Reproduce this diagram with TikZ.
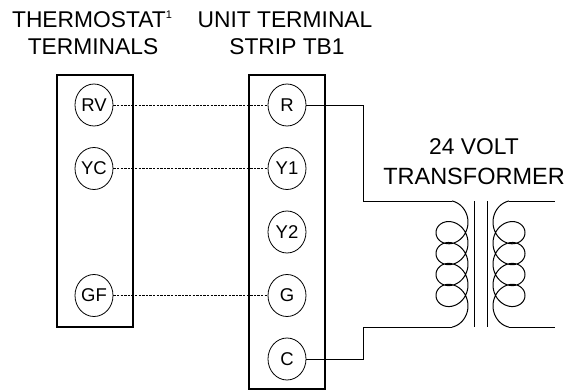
\documentclass[tikz,border=0pt]{standalone}
\usepackage{fontspec}
\setmainfont{Liberation Sans}
\usetikzlibrary{shapes.geometric}

\begin{document}
\begin{tikzpicture}[x=1pt,y=-1pt,
term/.style={ellipse,draw,line width=0.8pt,inner sep=0pt,
  minimum width=38pt,minimum height=42pt,font=\fontsize{18.5}{18.5}\selectfont},
strip/.style={draw,line width=1.1pt,inner sep=0pt,minimum width=76pt},
jumper/.style={line width=0.8pt,dash pattern=on 2.4pt off 1.2pt},
wire/.style={line width=1pt},
head/.style={anchor=base,font=\fontsize{22.8}{27}\selectfont}]
\useasboundingbox (0,0) rectangle (568,391);

% headings
\node[head] (tstat1) at (92,27) {THERMOSTAT\raisebox{8.3pt}{\fontsize{11}{11}\selectfont 1}};
\node[head] (tstat2) at (93,54) {TERMINALS};
\node[head] (unit1) at (285,27) {UNIT TERMINAL};
\node[head] (unit2) at (287,54) {STRIP TB1};
\node[head] (xfmr1) at (474,154) {24 VOLT};
\node[head,font=\fontsize{23.5}{27}\selectfont] (xfmr2) at (474,184) {TRANSFORMER};

% terminal strips
\node[strip,minimum height=252pt] (tstat) at (95,201) {};
\node[strip,minimum height=314pt] (tb1) at (287,232) {};

% terminals
\node[term] (RV) at (94,105) {RV};
\node[term] (YC) at (94,168.5) {YC};
\node[term] (GF) at (94,295.5) {GF};
\node[term] (R) at (287,105) {R};
\node[term] (Y1) at (287,168.5) {Y1};
\node[term] (Y2) at (287,232) {Y2};
\node[term] (G) at (287,295.5) {G};
\node[term] (C) at (287,359) {C};

% field wiring
\draw[jumper] (RV) -- (R);
\draw[jumper] (YC) -- (Y1);
\draw[jumper] (GF) -- (G);

% transformer
\coordinate (pri top) at (452,201);
\coordinate (pri bot) at (452,327);
\coordinate (sec top) at (509,201);
\coordinate (sec bot) at (509,327);
\coordinate (sec top end) at (555,201);
\coordinate (sec bot end) at (555,327);
\draw[wire] plot[domain=-1.5708:26.7035,samples=240,smooth,variable=\t]
  ({452+16*cos(\t r)},{222.2+3.33*\t+16*sin(\t r)});
\draw[wire] plot[domain=-1.5708:26.7035,samples=240,smooth,variable=\t]
  ({509-16*cos(\t r)},{222.2+3.33*\t+16*sin(\t r)});
\draw[wire] (474,201) -- (474,327);
\draw[wire] (487,201) -- (487,327);
\draw[wire] (sec top) -- (sec top end);
\draw[wire] (sec bot) -- (sec bot end);

% 24 volt supply
\draw[wire] (R.east) -- ++(57,0) |- (pri top);
\draw[wire] (C.east) -- ++(57,0) |- (pri bot);
\end{tikzpicture}
\end{document}
